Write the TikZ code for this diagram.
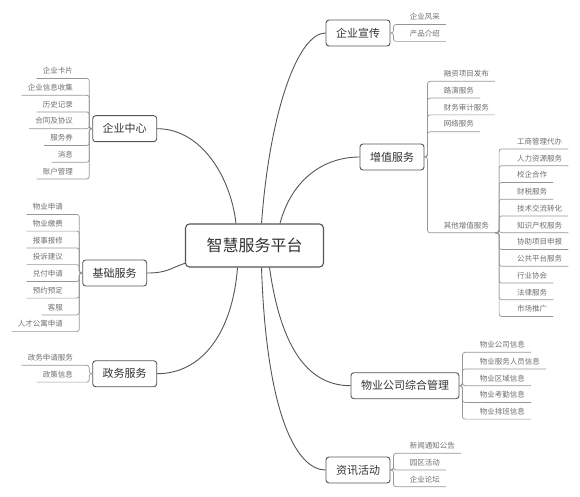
\documentclass[tikz,border=0pt]{standalone}
\usepackage{fontspec}
\setmainfont{Noto Sans CJK SC}
\usepackage{tikz}
\usetikzlibrary{calc}
\usepackage{xcolor}
\definecolor{BoxLine}{RGB}{85,85,85}
\definecolor{BoxText}{RGB}{51,51,51}
\definecolor{LeafText}{RGB}{110,110,110}
\definecolor{LeafLine}{RGB}{150,150,150}
\tikzset{
  hubbox/.style={draw=BoxLine, rounded corners=4pt, line width=1.1pt, fill=white,
    text=BoxText, font=\fontsize{16pt}{18pt}\selectfont, inner xsep=21pt,
    minimum height=43pt},
  topic/.style={draw=BoxLine, rounded corners=3pt, line width=0.9pt, fill=white,
    text=BoxText, font=\fontsize{11pt}{13pt}\selectfont, inner xsep=10pt,
    minimum height=26pt},
  leaf/.style={text=LeafText, font=\fontsize{7.5pt}{9pt}\selectfont,
    inner xsep=6pt, inner ysep=3pt, text height=6pt, text depth=1.5pt},
  rleaf/.style={leaf, anchor=south west},
  lleaf/.style={leaf, anchor=south east},
  link/.style={draw=BoxLine, line width=0.9pt},
  branch/.style={draw=LeafLine, line width=0.7pt, rounded corners=2.5pt}
}
\begin{document}
\begin{tikzpicture}[x=1pt, y=-1pt]
  \useasboundingbox (0,0) rectangle (580,497);

  % hub and main topics
  \node[hubbox] (hub) at (254.5,245.5) {智慧服务平台};
  \node[topic] (promo) at (358,33) {企业宣传};
  \node[topic] (valueadd) at (392,157) {增值服务};
  \node[topic] (property) at (405,385.7) {物业公司综合管理};
  \node[topic] (news) at (358,470) {资讯活动};
  \node[topic] (corp) at (124.7,128.7) {企业中心};
  \node[topic] (basic) at (114.7,273) {基础服务};
  \node[topic] (gov) at (124.7,373.7) {政务服务};

  \draw[link] ($(hub.north)+(-18.5,0)$) .. controls +(-5,-45) and +(45,0) .. (corp.east);
  \draw[link] ($(hub.north)+(7,0)$) .. controls +(8,-110) and +(-28,0) .. (promo.west);
  \draw[link] ($(hub.north)+(25.5,0)$) .. controls +(12,-45) and +(-35,0) .. (valueadd.west);
  \draw[link] ($(hub.west)+(0,17.8)$) .. controls +(-15,5) and +(20,0) .. (basic.east);
  \draw[link] ($(hub.south)+(-17,0)$) .. controls +(-5,65) and +(45,0) .. (gov.east);
  \draw[link] ($(hub.south)+(7,0)$) .. controls +(5,150) and +(-28,0) .. (news.west);
  \draw[link] ($(hub.south)+(15,0)$) .. controls +(12,85) and +(-40,0) .. (property.west);

  % 企业宣传
  \node[rleaf] (promo1) at (403.7,24.6) {企业风采};
  \node[rleaf] (promo2) at (403.7,41.4) {产品介绍};
  \draw[branch] (promo.east) -- ++(3,0) |- (promo1.south east);
  \draw[branch] (promo.east) -- ++(3,0) |- (promo2.south east);

  % 增值服务
  \node[rleaf] (value1) at (437.7,81.3) {融资项目发布};
  \node[rleaf] (value2) at (437.7,98.1) {路演服务};
  \node[rleaf] (value3) at (437.7,114.9) {财务审计服务};
  \node[rleaf] (value4) at (437.7,131.7) {网络服务};
  \node[rleaf] (other) at (437.7,232.7) {其他增值服务};
  \draw[branch] (valueadd.east) -- ++(3,0) |- (value1.south east);
  \draw[branch] (valueadd.east) -- ++(3,0) |- (value2.south east);
  \draw[branch] (valueadd.east) -- ++(3,0) |- (value3.south east);
  \draw[branch] (valueadd.east) -- ++(3,0) |- (value4.south east);
  \draw[branch] (valueadd.east) -- ++(3,0) |- (other.south east);

  % 其他增值服务
  \node[rleaf] (other1) at (511,148.95) {工商管理代办};
  \node[rleaf] (other2) at (511,165.7) {人力资源服务};
  \node[rleaf] (other3) at (511,182.45) {校企合作};
  \node[rleaf] (other4) at (511,199.2) {财税服务};
  \node[rleaf] (other5) at (511,215.95) {技术交流转化};
  \node[rleaf] (other6) at (511,232.7) {知识产权服务};
  \node[rleaf] (other7) at (511,249.45) {协助项目申报};
  \node[rleaf] (other8) at (511,266.2) {公共平台服务};
  \node[rleaf] (other9) at (511,282.95) {行业协会};
  \node[rleaf] (other10) at (511,299.7) {法律服务};
  \node[rleaf] (other11) at (511,316.45) {市场推广};
  \draw[branch] (other.south east) -- ++(4,0) |- (other1.south east);
  \draw[branch] (other.south east) -- ++(4,0) |- (other2.south east);
  \draw[branch] (other.south east) -- ++(4,0) |- (other3.south east);
  \draw[branch] (other.south east) -- ++(4,0) |- (other4.south east);
  \draw[branch] (other.south east) -- ++(4,0) |- (other5.south east);
  \draw[branch] (other.south east) -- ++(4,0) |- (other6.south east);
  \draw[branch] (other.south east) -- ++(4,0) |- (other7.south east);
  \draw[branch] (other.south east) -- ++(4,0) |- (other8.south east);
  \draw[branch] (other.south east) -- ++(4,0) |- (other9.south east);
  \draw[branch] (other.south east) -- ++(4,0) |- (other10.south east);
  \draw[branch] (other.south east) -- ++(4,0) |- (other11.south east);

  % 物业公司综合管理
  \node[rleaf] (prop1) at (473.7,352.3) {物业公司信息};
  \node[rleaf] (prop2) at (473.7,369) {物业服务人员信息};
  \node[rleaf] (prop3) at (473.7,385.7) {物业区域信息};
  \node[rleaf] (prop4) at (473.7,402.4) {物业考勤信息};
  \node[rleaf] (prop5) at (473.7,419.1) {物业排班信息};
  \draw[branch] (property.east) -- ++(3,0) |- (prop1.south east);
  \draw[branch] (property.east) -- ++(3,0) |- (prop2.south east);
  \draw[branch] (property.east) -- ++(3,0) |- (prop3.south east);
  \draw[branch] (property.east) -- ++(3,0) |- (prop4.south east);
  \draw[branch] (property.east) -- ++(3,0) |- (prop5.south east);

  % 资讯活动
  \node[rleaf] (news1) at (403.7,453.3) {新闻通知公告};
  \node[rleaf] (news2) at (403.7,470) {园区活动};
  \node[rleaf] (news3) at (403.7,486.7) {企业论坛};
  \draw[branch] (news.east) -- ++(3,0) |- (news1.south east);
  \draw[branch] (news.east) -- ++(3,0) |- (news2.south east);
  \draw[branch] (news.east) -- ++(3,0) |- (news3.south east);

  % 企业中心
  \node[lleaf] (corp1) at (79,78.45) {企业卡片};
  \node[lleaf] (corp2) at (79,95.2) {企业信息收集};
  \node[lleaf] (corp3) at (79,111.95) {历史记录};
  \node[lleaf] (corp4) at (79,128.7) {合同及协议};
  \node[lleaf] (corp5) at (79,145.45) {服务券};
  \node[lleaf] (corp6) at (79,162.2) {消息};
  \node[lleaf] (corp7) at (79,178.95) {账户管理};
  \draw[branch] (corp.west) -- ++(-3,0) |- (corp1.south west);
  \draw[branch] (corp.west) -- ++(-3,0) |- (corp2.south west);
  \draw[branch] (corp.west) -- ++(-3,0) |- (corp3.south west);
  \draw[branch] (corp.west) -- ++(-3,0) |- (corp4.south west);
  \draw[branch] (corp.west) -- ++(-3,0) |- (corp5.south west);
  \draw[branch] (corp.west) -- ++(-3,0) |- (corp6.south west);
  \draw[branch] (corp.west) -- ++(-3,0) |- (corp7.south west);

  % 基础服务
  \node[lleaf] (basic1) at (69,214.4) {物业申请};
  \node[lleaf] (basic2) at (69,231.1) {物业缴费};
  \node[lleaf] (basic3) at (69,247.9) {报事报修};
  \node[lleaf] (basic4) at (69,264.6) {投诉建议};
  \node[lleaf] (basic5) at (69,281.4) {兑付申请};
  \node[lleaf] (basic6) at (69,298.1) {预约预定};
  \node[lleaf] (basic7) at (69,314.9) {客服};
  \node[lleaf] (basic8) at (69,331.6) {人才公寓申请};
  \draw[branch] (basic.west) -- ++(-3,0) |- (basic1.south west);
  \draw[branch] (basic.west) -- ++(-3,0) |- (basic2.south west);
  \draw[branch] (basic.west) -- ++(-3,0) |- (basic3.south west);
  \draw[branch] (basic.west) -- ++(-3,0) |- (basic4.south west);
  \draw[branch] (basic.west) -- ++(-3,0) |- (basic5.south west);
  \draw[branch] (basic.west) -- ++(-3,0) |- (basic6.south west);
  \draw[branch] (basic.west) -- ++(-3,0) |- (basic7.south west);
  \draw[branch] (basic.west) -- ++(-3,0) |- (basic8.south west);

  % 政务服务
  \node[lleaf] (gov1) at (79,365.3) {政务申请服务};
  \node[lleaf] (gov2) at (79,382.1) {政策信息};
  \draw[branch] (gov.west) -- ++(-3,0) |- (gov1.south west);
  \draw[branch] (gov.west) -- ++(-3,0) |- (gov2.south west);
\end{tikzpicture}
\end{document}
